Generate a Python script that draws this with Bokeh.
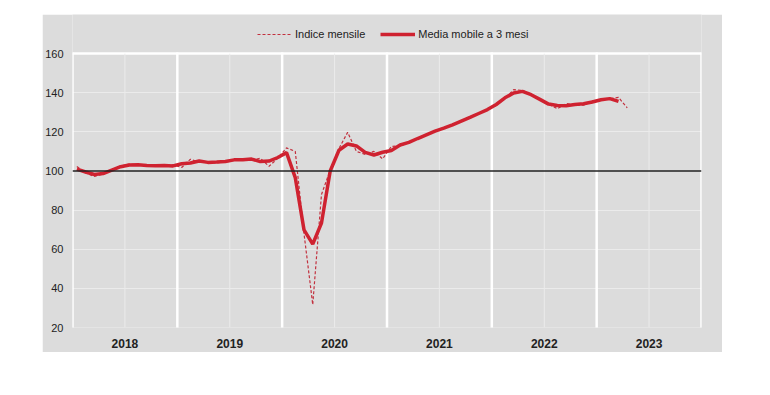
from bokeh.plotting import figure
from bokeh.models import (ColumnDataSource, FixedTicker, Grid, Span, Legend, LegendItem, Range1d)
from bokeh.embed import file_html
from bokeh.resources import INLINE

# ---- data (monthly, Jan 2018 - Apr 2023) ----
start_year = 2018
years = ["2018", "2019", "2020", "2021", "2022", "2023"]
y_ticks = [20, 40, 60, 80, 100, 120, 140, 160]

indice_mensile = [
    102.3, 99.0, 97.2, 98.5, 100.5, 102.5, 103.5, 103.2, 102.8, 102.5, 102.8, 103.2,   # 2018
    101.8, 106.0, 104.5, 104.8, 104.0, 105.0, 105.8, 106.2, 105.5, 106.5, 102.4, 106.5, # 2019
    111.8, 110.0, 68.0, 31.7, 88.0, 100.5, 111.5, 119.8, 110.0, 108.5, 110.0, 106.2,    # 2020
    112.6, 112.8, 114.5, 116.5, 118.8, 120.3, 122.0, 123.4, 125.4, 127.6, 129.3, 131.4, # 2021
    133.5, 137.0, 141.6, 141.2, 139.2, 136.5, 134.2, 131.8, 134.5, 133.8, 133.6, 135.8, # 2022
    136.5, 137.0, 137.6, 132.3,                                                         # 2023
]
media_mobile = [
    101.0, 99.5, 98.2, 98.7, 100.5, 102.2, 103.1, 103.2, 102.8, 102.7, 102.8, 102.6,    # 2018
    103.7, 104.1, 105.1, 104.4, 104.6, 104.9, 105.7, 105.8, 106.1, 104.8, 105.1, 106.9, # 2019
    109.4, 96.6, 69.9, 62.6, 73.4, 100.0, 110.6, 113.8, 112.8, 109.5, 108.2, 109.6,     # 2020
    110.5, 113.3, 114.6, 116.6, 118.5, 120.4, 121.9, 123.6, 125.5, 127.4, 129.4, 131.4, # 2021
    134.0, 137.4, 139.9, 140.7, 139.0, 136.6, 134.2, 133.5, 133.4, 134.0, 134.4, 135.3, # 2022
    136.4, 137.0, 135.6,                                                                # 2023
]

RED = "#cf2230"
RED_DASH = "#c2303e"
BG = "#dcdcdc"
FONT = "Liberation Sans"
Y_MIN, Y_MAX = y_ticks[0], y_ticks[-1]

def month_x(i):
    return start_year + (i + 0.5) / 12.0

src_m = ColumnDataSource(dict(x=[month_x(i) for i in range(len(indice_mensile))], y=indice_mensile))
src_a = ColumnDataSource(dict(x=[month_x(i) for i in range(len(media_mobile))], y=media_mobile))

# frame extends above 160 to host the legend (same grey as the border)
p = figure(width=680, height=338, output_backend="svg", toolbar_location=None,
           x_range=Range1d(start_year, start_year + len(years)), y_range=Range1d(Y_MIN, 180),
           min_border_left=30, min_border_right=21, min_border_top=0, min_border_bottom=25)
p.styles = {"margin-left": "42px", "margin-top": "14px"}
p.background_fill_color = BG
p.border_fill_color = BG
p.outline_line_color = None

# axes
year_mid = [start_year + i + 0.5 for i in range(len(years))]
year_edges = [start_year + i for i in range(len(years) + 1)]
p.xaxis.ticker = FixedTicker(ticks=year_mid)
p.xaxis.major_label_overrides = {start_year + i + 0.5: years[i] for i in range(len(years))}
p.yaxis.ticker = FixedTicker(ticks=y_ticks)
for ax in (p.xaxis[0], p.yaxis[0]):
    ax.axis_line_color = None
    ax.major_tick_line_color = None
    ax.minor_tick_line_color = None
    ax.major_tick_out = 0
    ax.major_tick_in = 0
    ax.minor_tick_out = 0
    ax.minor_tick_in = 0
    ax.major_label_text_font = FONT
    ax.major_label_text_color = "#222222"
p.xaxis.major_label_text_font_size = "12px"
p.yaxis.major_label_text_font_size = "11px"
p.xaxis.major_label_text_font_style = "bold"
p.xaxis.major_label_standoff = 11
p.yaxis.major_label_standoff = 9

# grids
p.xgrid.visible = False
p.ygrid.visible = False
p.segment(x0=year_mid, x1=year_mid, y0=[Y_MIN] * len(year_mid), y1=[Y_MAX] * len(year_mid),
          line_color="#ebebeb", line_width=1)
p.add_layout(Grid(dimension=1, ticker=FixedTicker(ticks=[40, 60, 80, 120, 140]),
                  grid_line_color="#ebebeb", grid_line_width=1))
p.segment(x0=year_edges, x1=year_edges, y0=[Y_MIN - 1] * len(year_edges), y1=[Y_MAX + 0.6] * len(year_edges),
          line_color="white", line_width=2.5)
p.add_layout(Grid(dimension=1, ticker=FixedTicker(ticks=[Y_MIN, Y_MAX]),
                  grid_line_color="white", grid_line_width=2.5))
p.add_layout(Span(location=100, dimension="width", line_color="#222222", line_width=1.3))

r1 = p.line("x", "y", source=src_m, line_color=RED_DASH, line_width=1.2, line_dash="3 2")
r2 = p.line("x", "y", source=src_a, line_color=RED, line_width=3.5)

legend = Legend(items=[LegendItem(label="Indice mensile", renderers=[r1]),
                       LegendItem(label="Media mobile a 3 mesi", renderers=[r2])],
                orientation="horizontal", location=(185, 287),
                background_fill_alpha=0, border_line_color=None,
                label_text_font=FONT, label_text_font_size="11px", label_text_color="#222222",
                glyph_width=35, glyph_height=12, label_standoff=3, spacing=15,
                padding=0, margin=0, label_height=12)
p.add_layout(legend, "center")

open("out.html", "w").write(file_html(p, INLINE))
